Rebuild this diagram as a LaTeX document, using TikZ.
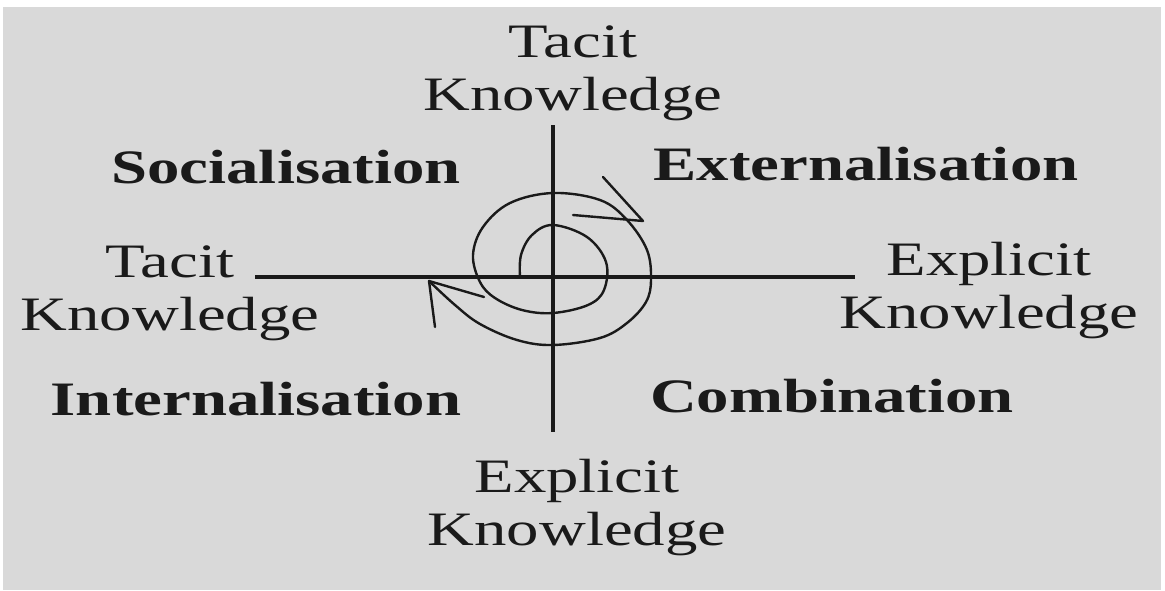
\documentclass[tikz,border=0pt]{standalone}
\usepackage{fontspec}
\usepackage{graphicx}
\setmainfont{Liberation Serif}
\definecolor{bggray}{HTML}{D9D9D9}
\definecolor{ink}{HTML}{1A1A1A}
\newcommand{\lbl}[1]{\scalebox{1.35}[1]{\begin{tabular}[b]{@{}c@{}}#1\end{tabular}}}
\newcommand{\blbl}[1]{\scalebox{1.35}[1]{\bfseries #1}}
\begin{document}
\begin{tikzpicture}[x=1pt,y=-1pt,
  txt/.style={anchor=base,inner sep=0pt,text=ink,font=\fontsize{48}{53}\selectfont},
  axis/.style={draw=ink,line width=3.2pt},
  spiral/.style={draw=ink,line width=2.4pt,line cap=round,line join=round}]
\useasboundingbox (0,0) rectangle (1165,590);
\fill[bggray] (3,7) rectangle (1161,590);
% labels
\node[txt] (ktop) at (573,110) {\lbl{Tacit\\Knowledge}};
\node[txt] (kleft) at (170,330) {\lbl{Tacit\\Knowledge}};
\node[txt] (kright) at (989,328) {\lbl{Explicit\\Knowledge}};
\node[txt] (kbot) at (577,545) {\lbl{Explicit\\Knowledge}};
\node[txt] (soc) at (286,183) {\blbl{Socialisation}};
\node[txt] (ext) at (866,180) {\blbl{Externalisation}};
\node[txt] (int) at (256,415) {\blbl{Internalisation}};
\node[txt] (com) at (832,412) {\blbl{Combination}};
% axes
\coordinate (vt) at (553,125);
\coordinate (vb) at (553,432);
\coordinate (hl) at (255,277);
\coordinate (hr) at (855,277);
\draw[axis] (vt) -- (vb);
\draw[axis] (hl) -- (hr);
% spiral
\draw[spiral] plot[smooth,tension=0.6] coordinates {
  (520,277) (521,255) (532,235) (553,225) (587,237) (606,262) (604,290)
  (588,305) (553,313) (522,310) (495,298) (480,282) (473,255) (483,227)
  (510,203) (553,193) (600,200) (627,220) (647,250) (651,280) (646,302)
  (627,323) (600,338) (553,345) (517,340) (480,324) (455,305) (429,281)};
% arrowheads
\coordinate (tipA) at (643,221);
\coordinate (tipB) at (429,281);
\draw[spiral] (573,215) -- (tipA) -- (603,177);
\draw[spiral] (435,327) -- (tipB) -- (484,297);
\end{tikzpicture}
\end{document}
